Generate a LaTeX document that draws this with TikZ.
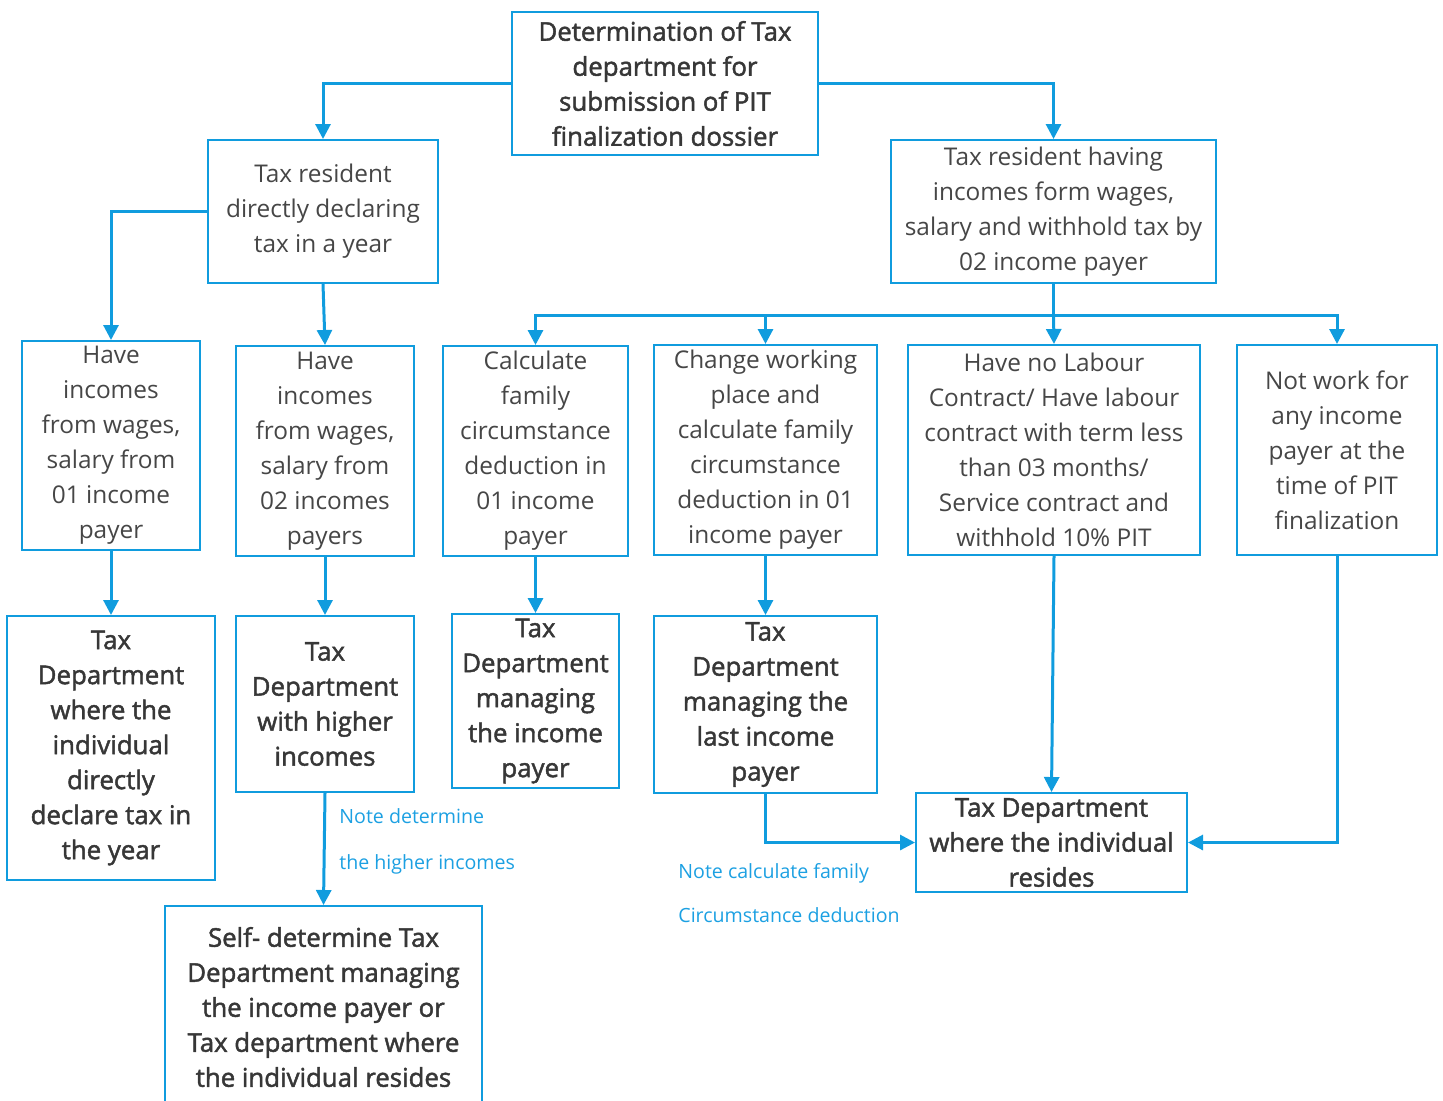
\documentclass[tikz,border=0pt]{standalone}
\usepackage{fontspec}
\setmainfont{Open Sans}
\newfontfamily\medfont[FakeBold=1.8]{Open Sans}
\usetikzlibrary{arrows.meta}
\definecolor{lblue}{RGB}{16,156,222}
\definecolor{nblue}{RGB}{28,160,226}
\definecolor{tgray}{RGB}{70,70,70}
\definecolor{tdark}{RGB}{55,55,55}
\tikzset{
  box/.style={draw=lblue, line width=1pt, inner sep=0pt, align=center, text=tgray,
    font=\fontsize{12.2}{17.5}\selectfont},
  mbox/.style={box, text=tdark, font=\medfont\fontsize{12.9}{17.5}\selectfont},
  arr/.style={draw=lblue, line width=1.5pt, -{Triangle[width=7.5pt,length=7.5pt]}},
  plain/.style={draw=lblue, line width=1.5pt},
  note/.style={text=nblue, inner sep=0pt, font=\fontsize{9.8}{12}\selectfont, anchor=base west}
}
\begin{document}
\begin{tikzpicture}[x=0.5pt,y=-0.5pt]
\useasboundingbox (0,0) rectangle (1443,1100);
\node[mbox, minimum width=153pt, minimum height=71.5pt] (top) at (665,83.5)
  {Determination of Tax\\department for\\submission of PIT\\finalization dossier};
\node[box, minimum width=115pt, minimum height=71.5pt] (A) at (323,211.5)
  {Tax resident\\directly declaring\\tax in a year};
\node[box, minimum width=162.5pt, minimum height=71.5pt] (B) at (1053.5,211.5)
  {Tax resident having\\incomes form wages,\\salary and withhold tax by\\02 income payer};
\node[box, minimum width=89pt, minimum height=104.5pt] (C1) at (111,445.5)
  {Have\\incomes\\from wages,\\salary from\\01 income\\payer};
\node[box, minimum width=89pt, minimum height=105pt] (C2) at (325,451)
  {Have\\incomes\\from wages,\\salary from\\02 incomes\\payers};
\node[box, minimum width=92.5pt, minimum height=105pt] (C3) at (535.5,451)
  {Calculate\\family\\circumstance\\deduction in\\01 income\\payer};
\node[box, minimum width=111.5pt, minimum height=105pt] (C4) at (765.5,450)
  {Change working\\place and\\calculate family\\circumstance\\deduction in 01\\income payer};
\node[box, minimum width=146pt, minimum height=105pt] (C5) at (1054,450)
  {Have no Labour\\Contract/ Have labour\\contract with term less\\than 03 months/\\Service contract and\\withhold 10\% PIT};
\node[box, minimum width=100pt, minimum height=105pt] (C6) at (1337,450)
  {Not work for\\any income\\payer at the\\time of PIT\\finalization};
\node[mbox, minimum width=104pt, minimum height=132pt] (D1) at (111,748)
  {Tax\\Department\\where the\\individual\\directly\\declare tax in\\the year};
\node[mbox, minimum width=89pt, minimum height=88pt] (D2) at (325,704)
  {Tax\\Department\\with higher\\incomes};
\node[mbox, minimum width=83.5pt, minimum height=87pt] (D3) at (535.5,701)
  {Tax\\Department\\managing\\the income\\payer};
\node[mbox, minimum width=111.5pt, minimum height=88.5pt] (D4) at (765.5,704.5)
  {Tax\\Department\\managing the\\last income\\payer};
\node[mbox, minimum width=135.5pt, minimum height=49.5pt] (E) at (1051.5,842.5)
  {Tax Department\\where the individual\\resides};
\node[mbox, minimum width=158.5pt, minimum height=101pt] (F) at (323.5,1007)
  {Self- determine Tax\\Department managing\\the income payer or\\Tax department where\\the individual resides};
\node[note] (n1) at (339,823) {Note determine};
\node[note] (n2) at (339,869) {the higher incomes};
\node[note] (n3) at (678,878) {Note calculate family};
\node[note] (n4) at (678,922) {Circumstance deduction};
\draw[arr] (top.west) -| (A.north);
\draw[arr] (top.east) -| (B.north);
\draw[arr] (A.west) -| (C1.north);
\draw[arr] (A.south) -- (C2.north);
\coordinate (bus) at (1053.5,315);
\draw[plain] (B.south) -- (bus);
\draw[arr] (bus) -| (C3.north);
\draw[arr] (bus) -| (C4.north);
\draw[arr] (bus) -- (C5.north);
\draw[arr] (bus) -| (C6.north);
\draw[arr] (C1.south) -- (D1.north);
\draw[arr] (C2.south) -- (D2.north);
\draw[arr] (C3.south) -- (D3.north);
\draw[arr] (C4.south) -- (D4.north);
\draw[arr] (D2.south) -- (F.north);
\draw[arr] (D4.south) |- (E.west);
\draw[arr] (C5.south) -- (E.north);
\draw[arr] (C6.south) |- (E.east);
\end{tikzpicture}
\end{document}
